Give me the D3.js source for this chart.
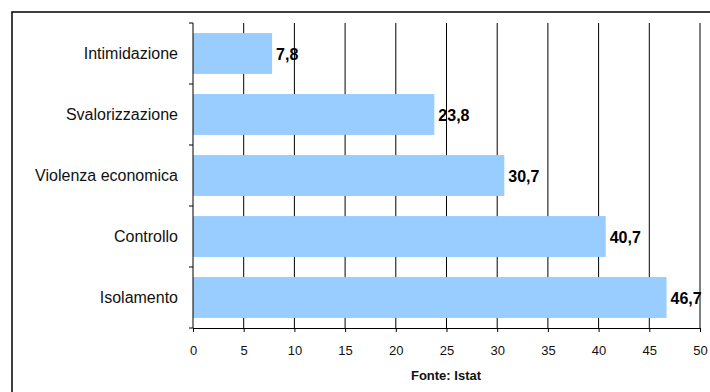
<!DOCTYPE html>
<html>
<head>
<meta charset="utf-8">
<script src="https://cdn.jsdelivr.net/npm/d3@7"></script>
<style>
  html, body { margin: 0; padding: 0; background: #fff; }
  svg { display: block; }
  text { font-family: "Liberation Sans", Arial, sans-serif; }
</style>
</head>
<body>
<svg id="chart" width="710" height="392"></svg>
<script>
const categories = ["Intimidazione", "Svalorizzazione", "Violenza economica", "Controllo", "Isolamento"];
const values = [7.8, 23.8, 30.7, 40.7, 46.7];
const valueLabels = ["7,8", "23,8", "30,7", "40,7", "46,7"];
const xTicks = [0, 5, 10, 15, 20, 25, 30, 35, 40, 45, 50];
const sourceText = "Fonte: Istat";

(function () {
const svg = d3.select("#chart");
const pLeft = 193, pRight = 700, pTop = 23, pBottom = 328;

// outer frame (extends beyond the picture to the right and bottom)
svg.append("rect")
  .attr("x", 12).attr("y", 12).attr("width", 720).attr("height", 400)
  .attr("fill", "#fff").attr("stroke", "#000").attr("stroke-width", 1.5);

const x = d3.scaleLinear().domain([0, 50]).range([pLeft, pRight]);
const y = d3.scaleBand().domain(categories).range([pTop, pBottom])
  .paddingInner(0.33).paddingOuter(0.165);

// vertical gridlines
svg.append("g").selectAll("line").data(xTicks.slice(1)).join("line")
  .attr("x1", d => x(d)).attr("x2", d => x(d))
  .attr("y1", pTop).attr("y2", pBottom)
  .attr("stroke", "#000").attr("stroke-width", 1);

// bars
svg.append("g").selectAll("rect").data(categories).join("rect")
  .attr("x", x(0))
  .attr("y", d => y(d))
  .attr("width", (d, i) => x(values[i]) - x(0))
  .attr("height", y.bandwidth())
  .attr("fill", "#99CCFF");

// value labels
svg.append("g").selectAll("text").data(categories).join("text")
  .attr("x", (d, i) => x(values[i]) + 4)
  .attr("y", d => y(d) + y.bandwidth() / 2 + 1)
  .attr("dy", "0.36em")
  .attr("font-size", 16).attr("font-weight", "bold")
  .attr("fill", "#000")
  .text((d, i) => valueLabels[i]);

// x axis
const xAxis = svg.append("g").attr("transform", `translate(0,${pBottom})`)
  .call(d3.axisBottom(x).tickValues(xTicks).tickSize(4).tickSizeOuter(0).tickPadding(14));
xAxis.select(".domain").attr("stroke", "#000");
xAxis.selectAll(".tick line").attr("stroke", "#000");
xAxis.selectAll(".tick text")
  .attr("font-family", "Liberation Sans, Arial, sans-serif")
  .attr("font-size", 13).attr("fill", "#111");

// y axis line
svg.append("line")
  .attr("x1", pLeft).attr("x2", pLeft).attr("y1", pTop).attr("y2", pBottom)
  .attr("stroke", "#000").attr("stroke-width", 1);

// category boundary ticks
const b = d3.scaleLinear().domain([0, categories.length]).range([pTop, pBottom]);
svg.append("g").selectAll("line").data(d3.range(categories.length + 1)).join("line")
  .attr("x1", pLeft - 4).attr("x2", pLeft)
  .attr("y1", d => b(d)).attr("y2", d => b(d))
  .attr("stroke", "#000");

// category labels
svg.append("g").selectAll("text").data(categories).join("text")
  .attr("x", 178)
  .attr("y", d => y(d) + y.bandwidth() / 2)
  .attr("dy", "0.36em")
  .attr("text-anchor", "end")
  .attr("font-size", 16)
  .attr("fill", "#111")
  .text(d => d);

// source
svg.append("text")
  .attr("x", 446).attr("y", 380)
  .attr("text-anchor", "middle")
  .attr("font-size", 13).attr("font-weight", "bold")
  .attr("fill", "#111")
  .text(sourceText);
})();
</script>
</body>
</html>
